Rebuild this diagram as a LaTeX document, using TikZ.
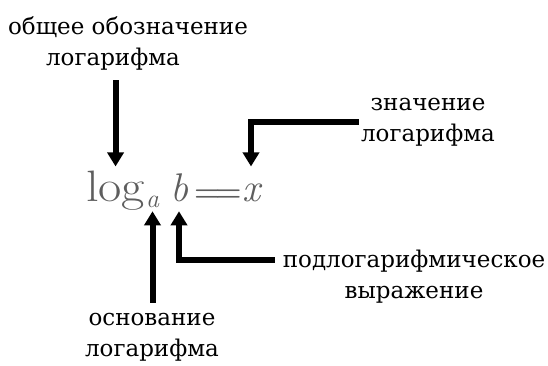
\documentclass[tikz,border=0pt]{standalone}
\usepackage{fontspec}
\usetikzlibrary{arrows.meta,positioning,calc}
\newfontfamily\labelfont{DejaVu Serif}
\newfontfamily\fmlfont{Latin Modern Roman}[FakeStretch=1.15]
\definecolor{FormulaGrey}{HTML}{5E5E5E}
\tikzset{
  lbl/.style={font=\labelfont\fontsize{23}{31}\selectfont,align=center,inner sep=0pt},
  fml/.style={text=FormulaGrey,inner sep=0pt,outer sep=4pt,anchor=base west,
              font=\fmlfont\fontsize{44}{46}\selectfont},
  var/.style={fml,font=\itshape\fontsize{40}{42}\selectfont},
  sub/.style={fml,font=\itshape\fontsize{26}{28}\selectfont},
  arr/.style={-{Triangle[length=14pt,width=16pt]},line width=6pt}
}
\begin{document}
\begin{tikzpicture}[x=1pt,y=-1pt]
  \useasboundingbox (0,0) rectangle (548,365);

  % the formula, piece by piece
  \node[fml] (log) at (82,201) {log};
  \node[sub] (base) at (142,207) {a};
  \node[var] (arg) at (166,201) {b};
  \node[fml,font=\bfseries\fontsize{30}{32}\selectfont] (eq) at (190,201) {=\kern-5pt=};
  \node[var] (val) at (238,201) {x};

  % captions
  \node[lbl] (genlbl) at (128,43) {общее обозначение\\логарифма\hspace*{30pt}};
  \node[lbl] (vallbl) at (428,122) {значение\\логарифма};
  \node[lbl] (arglbl) at (414,277) {подлогарифмическое\\выражение};
  \node[lbl] (baselbl) at (152,337) {основание\\логарифма};

  \draw[arr,shorten <=10pt] (log.north |- genlbl.south) -- (log.north);
  \draw[arr,shorten <=2pt] (vallbl.west) -| (val.north |- log.north);
  \draw[arr,shorten <=10pt] (base.south |- baselbl.north) -- (base.south);
  \draw[arr,shorten <=8pt] ([yshift=17pt]arglbl.west) -| (arg.south |- base.south);
\end{tikzpicture}
\end{document}
